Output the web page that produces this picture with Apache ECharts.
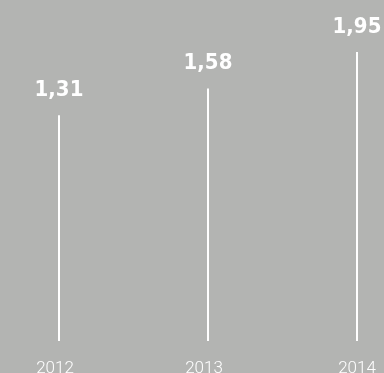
<!DOCTYPE html>
<html>
<head>
<meta charset="utf-8">
<script src="https://cdn.jsdelivr.net/npm/echarts@6/dist/echarts.min.js"></script>
<style>
html,body{margin:0;padding:0;background:#b3b4b2;}
#c{width:384px;height:373px;}
</style>
</head>
<body>
<div id="c"></div>
<script>
var categories = ['2012', '2013', '2014'];
var values = [1.31, 1.58, 1.95];
var valueLabels = ['1,31', '1,58', '1,95'];

var chart = echarts.init(document.getElementById('c'));
chart.setOption({
  backgroundColor: '#b3b4b2',
  animation: false,
  grid: { left: 59, right: 27, top: 47, bottom: 32, outerBoundsMode: 'none', containLabel: false },
  xAxis: {
    type: 'category',
    data: categories,
    boundaryGap: false,
    axisLine: { show: false },
    axisTick: { show: false },
    axisLabel: {
      color: '#ffffff',
      fontFamily: 'Roboto',
      fontWeight: 300,
      fontSize: 17,
      margin: 19,
      formatter: function (v, i) {
        return (i < categories.length - 1 ? '{s|' : '{n|') + v + '}';
      },
      rich: {
        s: { color: '#ffffff', fontFamily: 'Roboto', fontWeight: 300, fontSize: 17, padding: [0, 8, 0, 0] },
        n: { color: '#ffffff', fontFamily: 'Roboto', fontWeight: 300, fontSize: 17 }
      }
    }
  },
  yAxis: {
    type: 'value',
    min: -0.97,
    max: 2,
    startValue: -0.97,
    show: false,
    splitLine: { show: false }
  },
  series: [{
    type: 'bar',
    data: values,
    barWidth: 2,
    itemStyle: { color: '#ffffff' },
    label: {
      show: true,
      position: 'top',
      distance: 14,
      color: '#ffffff',
      fontFamily: 'DejaVu Sans Condensed',
      fontWeight: 'bold',
      fontSize: 22,
      formatter: function (p) { return valueLabels[p.dataIndex]; }
    }
  }]
});
</script>
</body>
</html>
